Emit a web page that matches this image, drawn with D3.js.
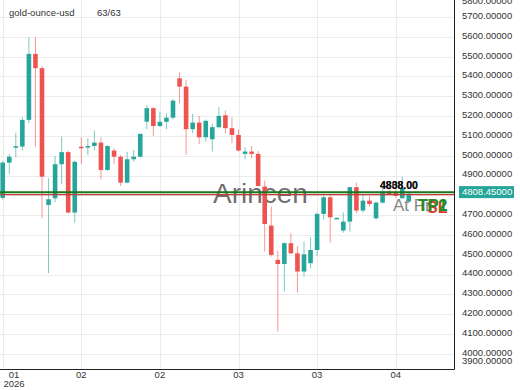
<!DOCTYPE html>
<html>
<head>
<meta charset="utf-8">
<script src="https://cdn.jsdelivr.net/npm/d3@7/dist/d3.min.js"></script>
<style>
	body { margin: 0; background: #fff; }
	svg { display: block; font-family: "Liberation Sans", Arial, sans-serif; }
</style>
</head>
<body>
<svg width="520" height="390"></svg>
<script>
// Daily candles, gold-ounce-usd (63 bars)
const opens  = [4787,4965,5041,5046,5181,5514,5442,4751,4785,4957,5018,4713,5045,5041,5049,5066,4928,5026,4995,4864,4982,4995,5172,5240,5150,5171,5192,5391,5349,5134,5167,5093,5083,5144,5204,5139,5105,5009,5021,5009,4844,4647,4474,4453,4558,4507,4415,4457,4524,4706,4790,4682,4622,4667,4841,4723,4773,4684,4763,4819,4811,4785,4768];
const highs  = [4973,5009,5116,5194,5598,5598,5453,4886,4999,5096,5026,4975,5093,5088,5127,5093,5053,5038,5003,5019,5029,5113,5256,5245,5223,5214,5285,5421,5383,5211,5201,5183,5163,5245,5228,5194,5134,5043,5049,5023,4874,4743,4521,4563,4608,4544,4566,4588,4713,4802,4802,4688,4713,4843,4864,4802,4797,4768,4844,4848,4830,4894,4820];
const lows   = [4778,4908,4992,5026,5164,5046,4684,4406,4765,4857,4708,4662,4958,5004,5026,4881,4923,4958,4847,4862,4970,4991,5134,5100,5145,5134,5183,5265,5004,5113,5059,5071,5021,5138,5113,5063,5021,4982,4987,4844,4516,4490,4112,4314,4503,4309,4389,4432,4494,4679,4561,4680,4611,4617,4709,4713,4743,4676,4758,4800,4788,4785,4762];
const closes = [4965,4995,5048,5181,5514,5442,4894,4780,4957,5018,4713,4969,5040,5049,5066,4928,5049,4995,4864,4982,4995,5110,5240,5150,5171,5192,5278,5349,5134,5167,5093,5176,5144,5201,5139,5105,5026,5021,5009,4847,4655,4499,4453,4558,4507,4415,4502,4524,4706,4790,4689,4686,4667,4841,4723,4773,4756,4763,4819,4806,4797,4836,4808.45];

// Axis ticks
const xTickIdx = [0, 12, 24, 36, 48, 60];
const xTickLabels = ["01", "02", "02", "03", "03", "04"];
const yearLabel = "2026";
const yTicks = d3.range(3900, 5801, 100);

// Overlay levels and texts
const lastPrice = 4808.45;
const greenLevel = 4815;
const redLevel = 4803;
const levelLabels = ["4838.00", "4808.00"];

const svg = d3.select("svg");
const plotRight = 454;
const plotBottom = 369;

const x = d3.scaleLinear().domain([0, 62]).range([2.7, 408.8]);
const y = d3.scaleLinear().domain([3900, 5800]).range([373.5, -2.7]);

const candles = opens.map((o, i) => ({ i, o, h: highs[i], l: lows[i], c: closes[i] }));

const defs = svg.append("defs");
defs.append("clipPath").attr("id", "plot")
	.append("rect").attr("x", 0).attr("y", 0).attr("width", plotRight).attr("height", plotBottom);
// the "At Price" tag is hidden behind the TP labels
defs.append("clipPath").attr("id", "atp")
	.append("rect").attr("x", 0).attr("y", 0).attr("width", 432).attr("height", plotBottom);

const g = svg.append("g").attr("clip-path", "url(#plot)");

// Grid
g.selectAll(".hgrid").data(yTicks).enter().append("line")
	.attr("x1", 0).attr("x2", plotRight)
	.attr("y1", d => Math.round(y(d)) + 0.5).attr("y2", d => Math.round(y(d)) + 0.5)
	.attr("stroke", "#ececec");

g.selectAll(".vgrid").data(xTickIdx).enter().append("line")
	.attr("x1", d => Math.round(x(d)) + 0.5).attr("x2", d => Math.round(x(d)) + 0.5)
	.attr("y1", 0).attr("y2", plotBottom)
	.attr("stroke", "#ececec");

// Watermark
g.append("text")
	.attr("x", 213).attr("y", 203)
	.attr("font-size", 28)
	.attr("fill", "#555").attr("fill-opacity", 0.85)
	.text("Arincen");

// Candles
const color = d => d.c >= d.o ? "#26a69a" : "#ef5350";

g.selectAll(".wick").data(candles).enter().append("line")
	.attr("x1", d => x(d.i)).attr("x2", d => x(d.i))
	.attr("y1", d => y(d.h)).attr("y2", d => y(d.l))
	.attr("stroke", color).attr("stroke-opacity", 0.6).attr("stroke-width", 1);

g.selectAll(".body").data(candles).enter().append("rect")
	.attr("x", d => x(d.i) - 2.3)
	.attr("width", 4.6)
	.attr("y", d => y(Math.max(d.o, d.c)))
	.attr("height", d => Math.max(1.5, Math.abs(y(d.o) - y(d.c))))
	.attr("fill", color);

// Level lines
g.append("line")
	.attr("x1", 0).attr("x2", plotRight)
	.attr("y1", y(greenLevel)).attr("y2", y(greenLevel))
	.attr("stroke", "#17771a").attr("stroke-width", 2);

g.append("line")
	.attr("x1", 0).attr("x2", plotRight)
	.attr("y1", y(redLevel)).attr("y2", y(redLevel))
	.attr("stroke", "#c43b3b").attr("stroke-width", 1.2);

// Level labels
g.selectAll(".lvl").data(levelLabels).enter().append("text")
	.attr("x", 380).attr("y", 189)
	.attr("font-size", 10.5).attr("font-weight", "bold")
	.attr("fill", "#111")
	.text(d => d);

g.append("text")
	.attr("x", 393).attr("y", 211)
	.attr("clip-path", "url(#atp)")
	.attr("font-size", 17).attr("fill", "#888")
	.text("At Price");

g.append("text")
	.attr("x", 427).attr("y", 213)
	.attr("font-size", 16).attr("font-weight", "bold").attr("fill", "#d83a2e")
	.text("SL");

["TP1", "TP2"].forEach(t => {
	g.append("text")
		.attr("x", 418).attr("y", 211)
		.attr("font-size", 16).attr("font-weight", "bold").attr("fill", "#2a8a2a")
		.text(t);
});

// Frame
svg.append("line")
	.attr("x1", 0).attr("x2", plotRight + 0.5)
	.attr("y1", plotBottom + 0.5).attr("y2", plotBottom + 0.5)
	.attr("stroke", "#222");
svg.append("line")
	.attr("x1", plotRight + 0.5).attr("x2", plotRight + 0.5)
	.attr("y1", 0).attr("y2", plotBottom + 0.5)
	.attr("stroke", "#222");

// Right price axis (edge labels squeezed inside like the original)
const fmt = d3.format(".5f");
svg.selectAll(".ylab").data(yTicks).enter().append("text")
	.attr("x", 462)
	.attr("y", d => Math.max(0.5, Math.min(y(d) - 1.5, 361)))
	.attr("dy", "0.35em")
	.attr("font-size", 9.5).attr("fill", "#333")
	.text(d => fmt(d));

// Current price tag
svg.append("rect")
	.attr("x", 459).attr("y", y(lastPrice) - 7.5)
	.attr("width", 55).attr("height", 12)
	.attr("fill", "#26a69a");
svg.append("text")
	.attr("x", 462).attr("y", y(lastPrice) - 1.5)
	.attr("dy", "0.35em")
	.attr("font-size", 9.5).attr("fill", "#fff")
	.text(fmt(lastPrice));

// Time axis
svg.selectAll(".xlab").data(xTickIdx).enter().append("text")
	.attr("x", d => Math.max(x(d), 14))
	.attr("y", 378)
	.attr("text-anchor", "middle")
	.attr("font-size", 9.5).attr("fill", "#333")
	.text((d, i) => xTickLabels[i]);

svg.append("text")
	.attr("x", 14).attr("y", 387)
	.attr("text-anchor", "middle")
	.attr("font-size", 9.5).attr("fill", "#333")
	.text(yearLabel);

// Legend
svg.append("text")
	.attr("x", 9).attr("y", 16)
	.attr("font-size", 9.5).attr("fill", "#333")
	.text("gold-ounce-usd");
svg.append("text")
	.attr("x", 97).attr("y", 16)
	.attr("font-size", 9.5).attr("fill", "#333")
	.text("63/63");
</script>
</body>
</html>
